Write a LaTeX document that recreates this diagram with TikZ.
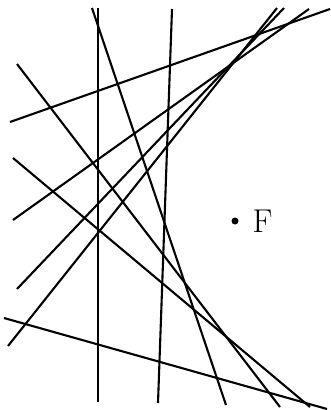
\documentclass[tikz,border=0pt]{standalone}
\begin{document}
\begin{tikzpicture}[x=1pt,y=-1pt,
  ln/.style={line width=2.1pt},
  vln/.style={line width=2.7pt}]
\useasboundingbox (0,0) rectangle (330,410);
% endpoints
\coordinate (a1) at (98,8);   \coordinate (b1) at (98,402);
\coordinate (a2) at (92,8);   \coordinate (b2) at (226,405);
\coordinate (a3) at (172,9);  \coordinate (b3) at (158,403);
\coordinate (a4) at (10,122); \coordinate (b4) at (330,9);
\coordinate (a5) at (17,64);  \coordinate (b5) at (280,407);
\coordinate (a6) at (13,158); \coordinate (b6) at (310,407);
\coordinate (a7) at (4,318);  \coordinate (b7) at (327,409);
\coordinate (a8) at (13,220); \coordinate (b8) at (309,9);
\coordinate (a9) at (17,289); \coordinate (b9) at (284,8);
\coordinate (a10) at (8,346); \coordinate (b10) at (277,8);
\draw[vln] (a1) -- (b1);
\foreach \i in {2,...,10} { \draw[ln] (a\i) -- (b\i); }
\fill (235,221) circle (3.5pt);
\node[inner sep=0pt, font=\fontsize{33}{40}\selectfont] (F) at (262.5,221.5) {F};
\end{tikzpicture}
\end{document}
